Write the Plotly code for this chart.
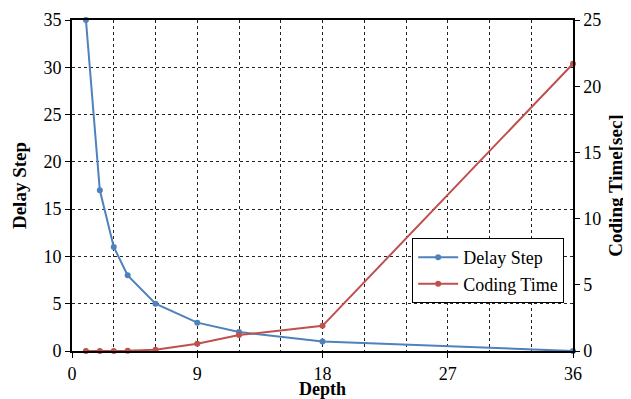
import plotly.graph_objects as go

depth = [1, 2, 3, 4, 6, 9, 12, 18, 36]
delay_step = [35, 17, 11, 8, 5, 3, 2, 1, 0]
coding_time = [0.0, 0.0, 0.0, 0.02, 0.1, 0.55, 1.2, 1.9, 21.7]

x_ticks = [0, 9, 18, 27, 36]
y_ticks = [0, 5, 10, 15, 20, 25, 30, 35]
y2_ticks = [0, 5, 10, 15, 20, 25]

blue = "#4F81BD"
red = "#C0504D"
font = "Liberation Serif"

fig = go.Figure()
fig.add_trace(go.Scatter(x=depth, y=delay_step, name="Delay Step", mode="lines+markers",
                         line=dict(color=blue, width=2), marker=dict(size=6, color=blue),
                         cliponaxis=False))
fig.add_trace(go.Scatter(x=depth, y=coding_time, name="Coding Time", mode="lines+markers",
                         line=dict(color=red, width=2), marker=dict(size=6, color=red),
                         yaxis="y2", cliponaxis=False))

tf = dict(family=font, size=18, color="black")
fig.update_layout(
    width=623, height=391,
    margin=dict(l=64, r=58, t=12, b=48, autoexpand=False),
    paper_bgcolor="white", plot_bgcolor="white",
    font=dict(family=font, size=18, color="black"),
    showlegend=True,
    legend=dict(x=0.679, y=0.341, xanchor="left", yanchor="top",
                bordercolor="black", borderwidth=1, bgcolor="white",
                font=dict(family=font, size=18), tracegroupgap=0, itemwidth=40),
    xaxis=dict(range=[0, 36], tickvals=x_ticks, showline=True, linecolor="black", linewidth=2,
               mirror=True, ticks="outside", ticklen=5, tickcolor="black", tickfont=tf,
               showgrid=True, gridcolor="#222", griddash="dot", gridwidth=1,
               minor=dict(dtick=3, showgrid=True, gridcolor="#222", griddash="dot", gridwidth=1),
               zeroline=False, automargin=False,
               title=dict(text="<b>Depth</b>", font=dict(family=font, size=18), standoff=3)),
    yaxis=dict(range=[0, 35], tickvals=y_ticks, showline=True, linecolor="black", linewidth=2,
               ticks="outside", ticklen=5, tickcolor="black", tickfont=tf,
               showgrid=True, gridcolor="#222", griddash="dot", gridwidth=1, zeroline=False,
               automargin=False,
               title=dict(text="<b>Delay Step</b>", font=dict(family=font, size=19), standoff=12)),
    yaxis2=dict(range=[0, 25], tickvals=y2_ticks, overlaying="y", side="right",
                showline=True, linecolor="black", linewidth=1.5, tickfont=tf,
                ticks="outside", ticklen=5, tickcolor="black", showgrid=False, zeroline=False,
                automargin=False,
                title=dict(text="<b>Coding Time[sec]</b>", font=dict(family=font, size=19), standoff=8)),
)

fig.write_html("out.html")
